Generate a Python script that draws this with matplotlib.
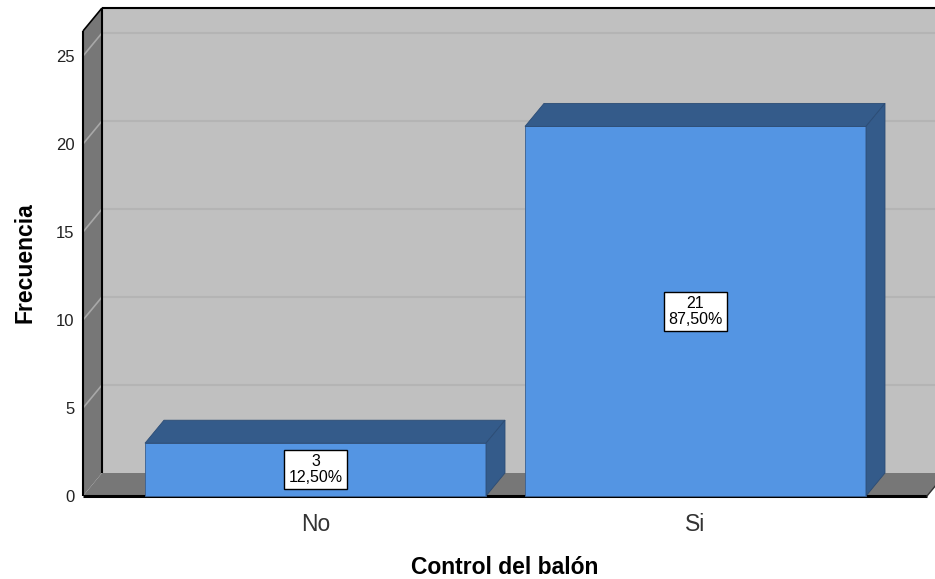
import matplotlib
matplotlib.use("Agg")
import matplotlib.pyplot as plt
from matplotlib.patches import Polygon

plt.rcParams['font.family'] = ['Liberation Sans', 'DejaVu Sans']

# ---- data ----
categories = ["No", "Si"]
counts = [3, 21]
percents = ["12,50%", "87,50%"]
y_ticks = [0, 5, 10, 15, 20, 25]
x_label = "Control del balón"
y_label = "Frecuencia"

# ---- style ----
W, H = 935, 579
BACK = "#c0c0c0"
WALL = "#777777"
GRID_BACK = "#b4b4b4"
GRID_SIDE = "#a8a8a8"
FRONT = "#5495e3"
DARK = "#345b8a"

fig = plt.figure(figsize=(W / 100, H / 100), dpi=100)
fig.patch.set_facecolor("white")

# front plane geometry (pixels)
px_left, px_right = 83, 927
px_zero, px_25 = 496, 56
ax = fig.add_axes([px_left / W, (H - px_zero) / H,
                   (px_right - px_left) / W, (px_zero - px_25) / H])
ppu_y = (px_zero - px_25) / 25.0
ppu_x = 380.0
xl = -(315.5 - px_left) / ppu_x
xr = xl + (px_right - px_left) / ppu_x
ax.set_xlim(xl, xr)
ax.set_ylim(0, 25)
ax.patch.set_visible(False)
for s in ax.spines.values():
    s.set_visible(False)

dx = 19 / ppu_x
dy = 23 / ppu_y
ymax = (px_zero - 31) / ppu_y
xr_far = xr + 0.3

def poly(pts, fc, ec="none", lw=0, z=1):
    p = Polygon(pts, closed=True, facecolor=fc, edgecolor=ec, linewidth=lw,
                clip_on=False, zorder=z)
    ax.add_patch(p)

# back wall
poly([(xl + dx, dy), (xl + dx, ymax + dy), (xr_far, ymax + dy), (xr_far, dy)], BACK, z=0)
# left wall
poly([(xl, 0), (xl, ymax), (xl + dx, ymax + dy), (xl + dx, dy)], WALL, z=0.5)
# floor
poly([(xl, 0), (xl + dx, dy), (xr + dx, dy), (xr, 0)], WALL, z=0.5)

# grid lines
for v in y_ticks[1:]:
    ax.plot([xl + dx, xr_far], [v + dy, v + dy], color=GRID_BACK, lw=1.5,
            clip_on=False, zorder=0.3)
    ax.plot([xl, xl + dx], [v, v + dy], color=GRID_SIDE, lw=1.2,
            clip_on=False, zorder=0.6)

# outlines
kw = dict(color="black", clip_on=False, zorder=0.8, solid_capstyle="butt")
ax.plot([xl, xl], [0, ymax], lw=1.5, **kw)
ax.plot([xl, xl + dx], [ymax, ymax + dy], lw=1.2, **kw)
ax.plot([xl + dx, xr_far], [ymax + dy, ymax + dy], lw=1.5, **kw)
ax.plot([xl + dx, xl + dx], [dy, ymax + dy], lw=1.5, **kw)
ax.plot([xl, xr], [0, 0], lw=2.2, **kw)
ax.plot([xr, xr + dx], [0, dy], color="#333333", lw=1.0, clip_on=False, zorder=0.8)

# bars
bw = 341 / ppu_x
for i, (c, v, p) in enumerate(zip(categories, counts, percents)):
    x0, x1 = i - bw / 2, i + bw / 2
    ax.bar(i, v, width=bw, color=FRONT, edgecolor="#3a5f8f", linewidth=0.6,
           zorder=2, clip_on=False)
    poly([(x0, v), (x0 + dx, v + dy), (x1 + dx, v + dy), (x1, v)], DARK,
         ec="#2c4c75", lw=0.6, z=2)
    poly([(x1, 0), (x1 + dx, dy), (x1 + dx, v + dy), (x1, v)], DARK,
         ec="#2c4c75", lw=0.6, z=2)
    ax.text(i, v / 2, f"{v}\n{p}", ha="center", va="center", fontsize=11.5,
            linespacing=1.1, zorder=5,
            bbox=dict(boxstyle="square,pad=0.25", facecolor="white",
                      edgecolor="black", linewidth=1.0))

ax.set_yticks(y_ticks)
ax.set_yticklabels([str(t) for t in y_ticks], fontsize=12, color="#222222")
ax.set_xticks(range(len(categories)))
ax.set_xticklabels(categories, fontsize=16.5, color="#333333")
ax.tick_params(axis="y", length=0, pad=6)
ax.tick_params(axis="x", length=0, pad=12)

fig.text(505 / W, 1 - 568 / H, x_label, ha="center", va="center",
         fontsize=16.5, fontweight="bold")
fig.text(25 / W, 1 - 263 / H, y_label, ha="center", va="center",
         fontsize=16.5, fontweight="bold", rotation=90)

fig.savefig("out.png", dpi=100, facecolor="white")
